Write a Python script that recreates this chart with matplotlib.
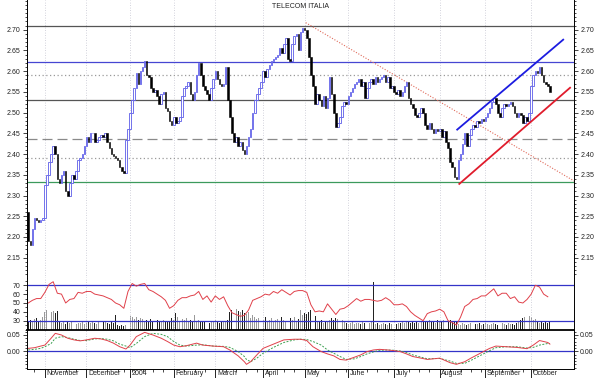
import numpy as np
import pandas as pd
import matplotlib
matplotlib.use('Agg')
import matplotlib.pyplot as plt
import matplotlib.transforms as mtransforms
from matplotlib.ticker import FixedLocator, MultipleLocator, FormatStrFormatter

plt.rcParams['font.family'] = ['Liberation Sans', 'DejaVu Sans']

# ============================================================
# Data
# ============================================================

title = 'TELECOM ITALIA'
month_names = ['November', 'December', '2004', 'February', 'March', 'April',
               'May', 'June', 'July', 'August', 'September', 'October']
holidays = ['2003-12-25', '2003-12-26', '2004-01-01', '2004-04-09', '2004-04-12']

first_open = 2.26
closes = [
    2.19, 2.18, 2.22, 2.245, 2.24, 2.235, 2.24, 2.245, 2.325, 2.35,
    2.38, 2.40, 2.42, 2.40, 2.34, 2.33, 2.35, 2.36, 2.31, 2.30,
    2.33, 2.35, 2.34, 2.36, 2.385, 2.39, 2.40, 2.42, 2.44, 2.43,
    2.45, 2.45, 2.43, 2.435, 2.44, 2.445, 2.44, 2.45, 2.43, 2.415,
    2.40, 2.395, 2.39, 2.385, 2.37, 2.36, 2.355, 2.435, 2.46, 2.50,
    2.53, 2.56, 2.595, 2.57, 2.60, 2.61, 2.625, 2.59, 2.585, 2.56,
    2.55, 2.555, 2.54, 2.52, 2.545, 2.55, 2.51, 2.505, 2.48, 2.47,
    2.49, 2.475, 2.48, 2.49, 2.54, 2.56, 2.565, 2.575, 2.545, 2.53,
    2.55, 2.59, 2.62, 2.59, 2.565, 2.555, 2.545, 2.53, 2.56, 2.58,
    2.60, 2.58, 2.57, 2.565, 2.57, 2.61, 2.53, 2.49, 2.45, 2.43,
    2.44, 2.42, 2.43, 2.41, 2.40, 2.42, 2.44, 2.46, 2.50, 2.53,
    2.545, 2.56, 2.575, 2.60, 2.585, 2.605, 2.615, 2.625, 2.63, 2.635,
    2.64, 2.655, 2.645, 2.665, 2.68, 2.63, 2.625, 2.665, 2.685, 2.69,
    2.65, 2.695, 2.705, 2.70, 2.68, 2.635, 2.59, 2.565, 2.52, 2.545,
    2.53, 2.515, 2.54, 2.51, 2.535, 2.585, 2.545, 2.50, 2.465, 2.475,
    2.49, 2.515, 2.525, 2.52, 2.54, 2.55, 2.56, 2.57, 2.575, 2.58,
    2.565, 2.575, 2.535, 2.56, 2.575, 2.58, 2.57, 2.585, 2.575, 2.58,
    2.585, 2.59, 2.575, 2.585, 2.56, 2.565, 2.55, 2.545, 2.555, 2.54,
    2.55, 2.565, 2.575, 2.535, 2.52, 2.51, 2.495, 2.49, 2.50, 2.51,
    2.50, 2.47, 2.46, 2.475, 2.46, 2.45, 2.46, 2.455, 2.46, 2.44,
    2.455, 2.43, 2.415, 2.38, 2.37, 2.345, 2.34, 2.385, 2.40, 2.425,
    2.45, 2.42, 2.445, 2.46, 2.47, 2.465, 2.48, 2.475, 2.485, 2.48,
    2.49, 2.50, 2.51, 2.525, 2.535, 2.52, 2.50, 2.49, 2.51, 2.52,
    2.515, 2.52, 2.525, 2.515, 2.50, 2.49, 2.50, 2.495, 2.475, 2.49,
    2.48, 2.50, 2.565, 2.59, 2.60, 2.595, 2.61, 2.59, 2.575, 2.57,
    2.565, 2.55,
]

volume = [
    32, 40, 36, 44, 48, 36, 40, 52, 72, 80,
    68, 72, 76, 68, 76, 32, 28, 36, 24, 32,
    28, 32, 36, 24, 28, 28, 32, 24, 28, 32,
    28, 36, 28, 24, 32, 28, 32, 36, 28, 24,
    32, 28, 60, 20, 16, 20, 16, 20, 48, 56,
    52, 44, 52, 40, 48, 44, 36, 40, 32, 44,
    36, 32, 40, 36, 32, 40, 36, 32, 36, 48,
    40, 68, 52, 36, 44, 40, 48, 36, 40, 32,
    60, 36, 40, 32, 36, 32, 36, 28, 32, 36,
    40, 32, 28, 36, 32, 36, 40, 72, 80, 68,
    84, 76, 72, 80, 68, 64, 72, 48, 60, 52,
    44, 48, 56, 40, 52, 36, 40, 48, 32, 40,
    44, 36, 52, 40, 36, 44, 48, 40, 52, 36,
    44, 80, 60, 68, 64, 72, 80, 64, 56, 32,
    36, 40, 28, 36, 32, 40, 48, 40, 48, 44,
    36, 40, 32, 28, 24, 28, 32, 24, 28, 28,
    24, 32, 28, 24, 28, 32, 192, 24, 28, 20,
    24, 28, 24, 20, 28, 24, 20, 24, 28, 28,
    32, 28, 32, 36, 28, 32, 28, 32, 28, 36,
    32, 32, 36, 40, 32, 36, 28, 40, 32, 36,
    40, 36, 36, 40, 32, 36, 32, 24, 20, 28,
    24, 20, 24, 28, 20, 24, 24, 28, 20, 24,
    28, 24, 20, 24, 28, 24, 20, 24, 28, 24,
    20, 28, 24, 24, 20, 28, 32, 40, 48, 52,
    48, 56, 52, 40, 44, 32, 28, 32, 28, 36,
    28, 32,
]

# RSI read every second trading day
rsi_day = np.arange(0, 252, 2)
rsi = [
    50, 53, 55, 55, 62, 71, 74, 61, 60, 50,
    54, 55, 62, 61, 63, 63, 60, 59, 58, 56,
    54, 50, 48, 44, 63, 72, 69, 71, 72, 65,
    63, 60, 57, 53, 44, 47, 53, 56, 56, 58,
    59, 63, 54, 58, 51, 58, 54, 57, 47, 39,
    37, 35, 36, 42, 53, 55, 57, 60, 59, 63,
    61, 65, 62, 59, 63, 64, 64, 62, 48, 40,
    41, 40, 49, 43, 37, 43, 44, 47, 51, 55,
    52, 54, 54, 53, 52, 53, 56, 53, 48, 48,
    49, 46, 40, 36, 33, 30, 38, 40, 41, 43,
    40, 30, 28, 25, 34, 46, 49, 54, 55, 58,
    58, 62, 66, 58, 61, 61, 55, 57, 51, 50,
    54, 60, 70, 68, 60, 57,
]

macd_day = [0, 3, 6, 8, 11, 13, 16, 19, 22, 25, 28, 32, 35, 38, 41, 44, 47, 49,
            52, 56, 60, 64, 67, 70, 73, 76, 81, 84, 89, 94, 97, 101, 104, 105,
            107, 110, 113, 118, 123, 128, 131, 134, 137, 141, 144, 147, 150,
            153, 157, 160, 163, 166, 169, 173, 176, 179, 182, 185, 189, 192,
            198, 203, 206, 210, 213, 216, 219, 222, 225, 230, 235, 240, 243,
            246, 250, 251]
macd = [0.009, 0.011, 0.016, 0.019, 0.040, 0.055, 0.050, 0.040, 0.035, 0.032,
        0.035, 0.040, 0.038, 0.033, 0.025, 0.014, 0.007, 0.019, 0.045, 0.058,
        0.050, 0.040, 0.030, 0.019, 0.014, 0.017, 0.025, 0.019, 0.016, 0.014,
        0.004, -0.014, -0.032, -0.040, -0.032, -0.011, 0.009, 0.022, 0.035,
        0.037, 0.037, 0.033, 0.014, -0.001, -0.008, -0.014, -0.025, -0.027,
        -0.018, -0.011, -0.001, 0.004, 0.006, 0.004, 0.002, -0.001, -0.008,
        -0.016, -0.021, -0.025, -0.021, -0.035, -0.040, -0.032, -0.021,
        -0.011, -0.001, 0.009, 0.016, 0.014, 0.012, 0.008, 0.019, 0.033,
        0.027, 0.022]
signal = [0.004, 0.006, 0.009, 0.014, 0.024, 0.040, 0.045, 0.042, 0.037, 0.033,
          0.033, 0.038, 0.039, 0.037, 0.032, 0.022, 0.016, 0.011, 0.024, 0.045,
          0.055, 0.052, 0.045, 0.030, 0.019, 0.016, 0.019, 0.020, 0.016, 0.015,
          0.012, -0.001, -0.016, -0.025, -0.032, -0.021, -0.006, 0.012, 0.027,
          0.035, 0.037, 0.036, 0.030, 0.019, 0.004, -0.006, -0.016, -0.025,
          -0.023, -0.016, -0.008, -0.002, 0.003, 0.004, 0.003, 0.001, -0.004,
          -0.011, -0.018, -0.023, -0.022, -0.030, -0.037, -0.037, -0.028,
          -0.018, -0.008, 0.002, 0.011, 0.014, 0.014, 0.010, 0.012, 0.019,
          0.024, 0.024]

# support / resistance levels
level_values = [2.709, 2.622, 2.591, 2.531, 2.436, 2.39, 2.3325]

# trend lines: (start day, end day), (start price, end price)
down_trend = ([133.5, 263.0], [2.717, 2.334])
channel_top = ([206.4, 257.4], [2.459, 2.676])
channel_bottom = ([207.4, 260.7], [2.328, 2.560])

# ============================================================
# Prepare
# ============================================================

dates = pd.bdate_range('2003-10-22', '2004-10-14')
dates = dates[~dates.isin(pd.to_datetime(holidays))]
x = np.arange(len(dates))

closes = np.array(closes)
opens = np.r_[first_open, closes[:-1]]
up = closes >= opens
body = np.where(np.abs(closes - opens) < 0.002, 0.002, closes - opens)

month_idx = np.flatnonzero(dates.month[1:] != dates.month[:-1]) + 1
monday_idx = np.flatnonzero(dates.weekday == 0)

# ============================================================
# Figure layout
# ============================================================

W, H = 600, 378
fig = plt.figure(figsize=(6, 3.78), dpi=100)
left, width = 27 / W, 547 / W
ax = fig.add_axes([left, 100 / H, width, 278 / H])
ax_rsi = fig.add_axes([left, 48 / H, width, 52 / H])
ax_macd = fig.add_axes([left, 9 / H, width, 39 / H])

tick_kw = dict(direction='out', labelsize=5, width=0.6, pad=1.5,
               colors='#222222', left=True, right=True,
               labelleft=True, labelright=True)

for a in (ax, ax_rsi, ax_macd):
    a.set_xlim(-0.6, 262.6)
    a.set_xticks(month_idx)
    a.xaxis.set_minor_locator(FixedLocator(monday_idx))
    a.grid(axis='x', which='major', linestyle=(0, (1, 2)), color='#c4c4d0', linewidth=0.6)
    a.set_axisbelow(True)
    a.tick_params(axis='y', which='major', length=3, **tick_kw)
    a.tick_params(axis='y', which='minor', length=1.5, width=0.5,
                  left=True, right=True, direction='out')
    a.spines['top'].set_visible(False)
    for s in ('left', 'right'):
        a.spines[s].set_linewidth(0.7)

for a in (ax, ax_rsi):
    a.tick_params(axis='x', which='both', length=0, labelbottom=False)
ax.spines['bottom'].set_visible(False)
ax_rsi.spines['bottom'].set_linewidth(1.3)

# ============================================================
# Price panel
# ============================================================

ax.set_ylim(2.101, 2.7717)
ax.yaxis.set_major_locator(FixedLocator(np.arange(2.15, 2.701, 0.05)))
ax.yaxis.set_minor_locator(MultipleLocator(0.01))
ax.yaxis.set_major_formatter(FormatStrFormatter('%.2f'))

level_styles = [('#555555', '-'), ('#4646d2', '-'), ('#9a9a9a', (0, (1, 2))),
                ('#555555', '-'), ('#8a8a8a', (0, (8, 4))),
                ('#9a9a9a', (0, (1, 2))), ('#3c9a5c', '-')]
for val, (col, ls) in zip(level_values, level_styles):
    ax.axhline(val, color=col, linestyle=ls, linewidth=0.9, zorder=1)

ax.bar(x[up], body[up], bottom=opens[up], width=0.75, facecolor='white',
       edgecolor='#5c5ce8', linewidth=0.6, zorder=3)
ax.bar(x[~up], body[~up], bottom=opens[~up], width=0.75, facecolor='black',
       edgecolor='black', linewidth=0.4, zorder=3)

ax.plot(*down_trend, color='#e06a5a', linestyle=(0, (1, 1.5)), linewidth=0.8, zorder=2)
ax.plot(*channel_top, color='#1c1ce0', linewidth=1.3, zorder=4)
ax.plot(*channel_bottom, color='#e01c2c', linewidth=1.3, zorder=4)

fig.text(0.5, 1 - 6 / H, title, ha='center', va='center', fontsize=5, color='#222222')

# ============================================================
# RSI + volume panel
# ============================================================

ax_vol = ax_rsi.twinx()
ax_vol.set_xlim(ax_rsi.get_xlim())
ax_vol.set_ylim(0, 208)
ax_vol.axis('off')
vol = np.array(volume)
ax_vol.bar(x[up], vol[up], width=0.45, color='#9a9a9a', linewidth=0)
ax_vol.bar(x[~up], vol[~up], width=0.45, color='#222222', linewidth=0)
ax_rsi.set_zorder(ax_vol.get_zorder() + 1)
ax_rsi.patch.set_visible(False)

ax_rsi.set_ylim(19.5, 78.2)
ax_rsi.yaxis.set_major_locator(FixedLocator([30, 40, 50, 60, 70]))
ax_rsi.yaxis.set_minor_locator(MultipleLocator(5))
ax_rsi.axhline(70, color='#3434c8', linewidth=0.9)
ax_rsi.axhline(30, color='#3434c8', linewidth=0.9)
ax_rsi.plot(rsi_day, rsi, color='#e0404a', linewidth=0.7)

# ============================================================
# MACD panel
# ============================================================

ax_macd.set_ylim(-0.0543, 0.0653)
ax_macd.yaxis.set_major_locator(FixedLocator([0.0, 0.05]))
ax_macd.yaxis.set_minor_locator(MultipleLocator(0.01))
ax_macd.yaxis.set_major_formatter(FormatStrFormatter('%.2f'))
ax_macd.axhline(0, color='#3434c8', linewidth=0.9)
ax_macd.plot(macd_day, signal, color='#3ca050', linestyle=(0, (2, 1.5)), linewidth=0.7)
ax_macd.plot(macd_day, macd, color='#e0404a', linewidth=0.7)
ax_macd.spines['bottom'].set_linewidth(0.7)

ax_macd.tick_params(axis='x', which='major', direction='out', length=6.5,
                    width=0.6, labelbottom=False)
ax_macd.tick_params(axis='x', which='minor', direction='out', length=2, width=0.5)
trans = mtransforms.blended_transform_factory(ax_macd.transData, ax_macd.transAxes)
for idx, name in zip(month_idx, month_names):
    ax_macd.text(idx + 0.8, -0.03, name, transform=trans, ha='left', va='top',
                 fontsize=5, color='#222222')

fig.savefig('out.png', dpi=100)
